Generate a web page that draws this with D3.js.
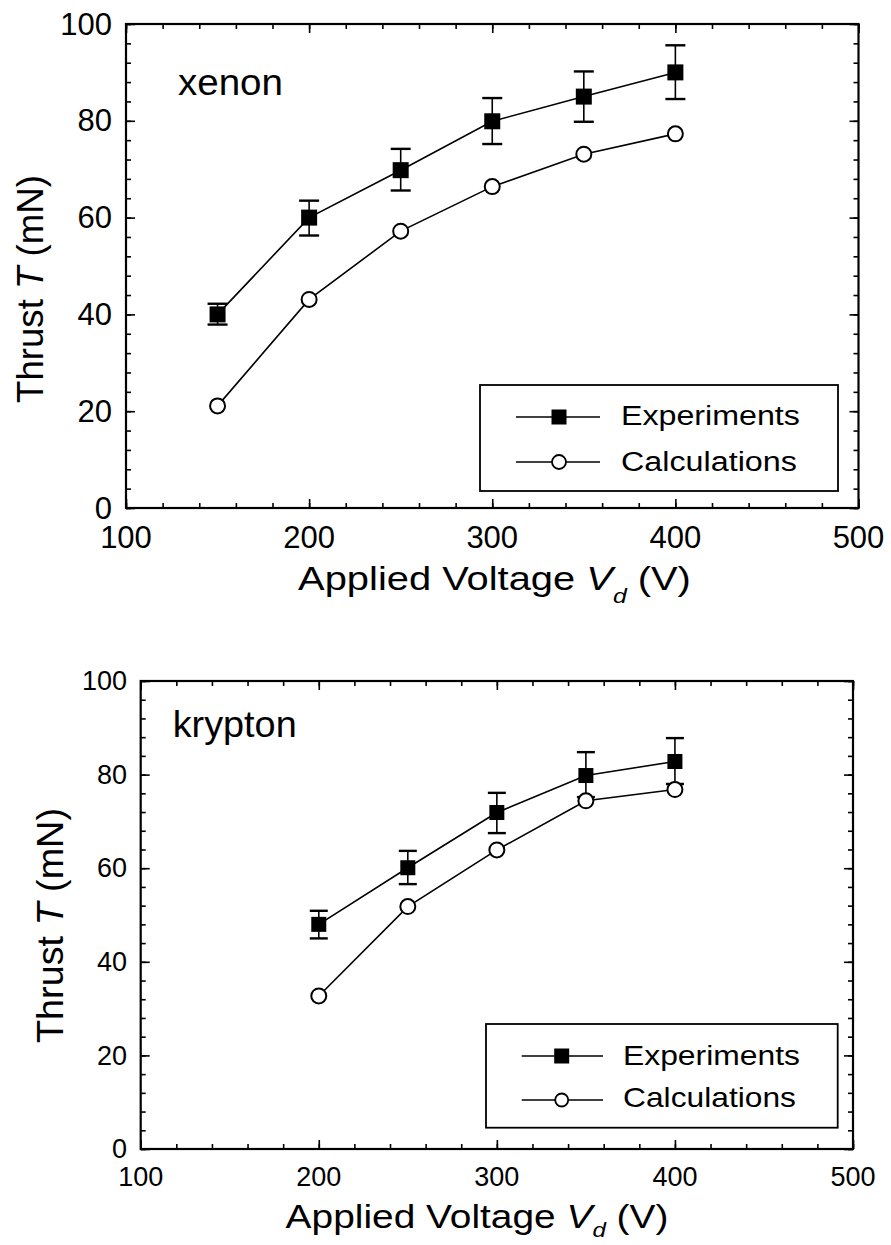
<!DOCTYPE html>
<html>
<head>
<meta charset="utf-8">
<script src="https://cdn.jsdelivr.net/npm/d3@7"></script>
<style>
  html, body { margin: 0; padding: 0; background: #fff; }
  svg { display: block; }
  text { font-family: "Liberation Sans", Arial, Helvetica, sans-serif; fill: #000; }
</style>
</head>
<body>
<svg id="chart" width="891" height="1245"></svg>
<script>
// ---------- data ----------
const xTickLabels = [100, 200, 300, 400, 500];
const yTickLabels = [0, 20, 40, 60, 80, 100];
const seriesNames = ["Experiments", "Calculations"];

const xenonVoltage = [150, 200, 250, 300, 350, 400];
const xenonExp     = [40.0, 60.0, 69.8, 79.9, 85.0, 90.0];
const xenonExpLow  = [37.9, 56.3, 65.6, 75.2, 79.8, 84.5];
const xenonExpHigh = [42.2, 63.5, 74.2, 84.7, 90.2, 95.6];
const xenonCalc    = [21.1, 43.1, 57.2, 66.4, 73.1, 77.3];

const kryptonVoltage = [200, 250, 300, 350, 400];
const kryptonExp     = [48.0, 60.1, 71.9, 79.8, 82.8];
const kryptonExpLow  = [45.0, 56.6, 67.5, 75.2, 78.0];
const kryptonExpHigh = [50.9, 63.7, 76.1, 84.8, 87.8];
const kryptonCalc    = [32.7, 51.8, 63.9, 74.4, 76.8];

// ---------- drawing ----------
const svg = d3.select("#chart");

function fitText(sel, x, y, width, anchor, rotate) {
  const w = sel.node().getComputedTextLength();
  const s = width / w;
  sel.attr("x", 0).attr("y", 0).attr("text-anchor", anchor || "start")
     .attr("transform", `translate(${x},${y})` + (rotate ? ` rotate(${rotate})` : "") + ` scale(${s},1)`);
}

function panel(cfg) {
  const g = svg.append("g");
  const x = d3.scaleLinear().domain([100, 500]).range([cfg.left, cfg.right]);
  const y = d3.scaleLinear().domain([0, 100]).range([cfg.bottom, cfg.top]);

  // minor / major ticks on all four sides, inward
  const xMinor = d3.range(100, 501, 20);
  const yMinor = d3.range(0, 101, 4);
  const mk = (axisFn, scale, vals, size, tr) => {
    const a = g.append("g").attr("transform", tr)
      .call(axisFn(scale).tickValues(vals).tickSize(size).tickFormat(""));
    a.select(".domain").remove();
    a.selectAll("line").attr("stroke", "#000").attr("stroke-width", 1.6);
  };
  mk(d3.axisBottom, x, xMinor, -cfg.minor, `translate(0,${cfg.bottom})`);
  mk(d3.axisBottom, x, xTickLabels, -cfg.major, `translate(0,${cfg.bottom})`);
  mk(d3.axisTop, x, xMinor, -cfg.minor, `translate(0,${cfg.top})`);
  mk(d3.axisTop, x, xTickLabels, -cfg.major, `translate(0,${cfg.top})`);
  mk(d3.axisLeft, y, yMinor, -cfg.minor, `translate(${cfg.left},0)`);
  mk(d3.axisLeft, y, yTickLabels, -cfg.major, `translate(${cfg.left},0)`);
  mk(d3.axisRight, y, yMinor, -cfg.minor, `translate(${cfg.right},0)`);
  mk(d3.axisRight, y, yTickLabels, -cfg.major, `translate(${cfg.right},0)`);

  g.append("rect")
    .attr("x", cfg.left).attr("y", cfg.top)
    .attr("width", cfg.right - cfg.left).attr("height", cfg.bottom - cfg.top)
    .attr("fill", "none").attr("stroke", "#000").attr("stroke-width", 2.2);

  // tick labels
  g.selectAll(".xl").data(xTickLabels).join("text")
    .attr("x", d => x(d)).attr("y", cfg.xLabelBase)
    .attr("text-anchor", "middle").attr("font-size", cfg.tickFont)
    .text(d => d);
  g.selectAll(".yl").data(yTickLabels).join("text")
    .attr("x", cfg.yLabelRight).attr("y", d => y(d) + cfg.tickFont * 0.34)
    .attr("text-anchor", "end").attr("font-size", cfg.tickFont)
    .text(d => d);

  // axis titles
  const xt = g.append("text").attr("font-size", cfg.titleFont);
  xt.append("tspan").text("Applied Voltage ");
  xt.append("tspan").attr("font-style", "italic").text("V");
  xt.append("tspan").attr("font-style", "italic").attr("font-size", cfg.titleFont * 0.62).attr("dy", cfg.subDy).text("d");
  xt.append("tspan").attr("dy", -cfg.subDy).text(" (V)");
  fitText(xt, cfg.xTitle.cx, cfg.xTitle.base, cfg.xTitle.w, "middle");

  const yt = g.append("text").attr("font-size", cfg.yTitleFont);
  yt.append("tspan").text("Thrust ");
  yt.append("tspan").attr("font-style", "italic").text("T");
  yt.append("tspan").text(" (mN)");
  fitText(yt, cfg.yTitle.base, cfg.yTitle.cy, cfg.yTitle.len, "middle", -90);

  // gas label
  const gl = g.append("text").attr("font-size", cfg.gasFont).text(cfg.gas);
  fitText(gl, cfg.gasPos.x, cfg.gasPos.base, cfg.gasPos.w, "start");

  // legend
  const L = cfg.legend;
  g.append("rect").attr("x", L.x0).attr("y", L.y0)
    .attr("width", L.x1 - L.x0).attr("height", L.y1 - L.y0)
    .attr("fill", "#fff").attr("stroke", "#000").attr("stroke-width", 1.8);
  [0, 1].forEach(i => {
    const ly = L.lineY[i];
    g.append("line").attr("x1", L.lx0).attr("x2", L.lx1).attr("y1", ly).attr("y2", ly)
      .attr("stroke", "#000").attr("stroke-width", 1.5);
    if (i === 0) {
      g.append("rect").attr("x", L.mx - L.sq / 2).attr("y", ly - L.sq / 2)
        .attr("width", L.sq).attr("height", L.sq).attr("fill", "#000");
    } else {
      g.append("circle").attr("cx", L.mx).attr("cy", ly).attr("r", L.r)
        .attr("fill", "#fff").attr("stroke", "#000").attr("stroke-width", 1.8);
    }
    const t = g.append("text").attr("font-size", L.font).text(seriesNames[i]);
    fitText(t, L.tx, L.textBase[i], L.textW[i], "start");
  });

  // data
  const V = cfg.volt;
  const line = d3.line().x(d => x(d[0])).y(d => y(d[1]));
  g.append("path").attr("d", line(V.map((v, i) => [v, cfg.calc[i]])))
    .attr("fill", "none").attr("stroke", "#000").attr("stroke-width", 1.6);
  g.append("path").attr("d", line(V.map((v, i) => [v, cfg.exp[i]])))
    .attr("fill", "none").attr("stroke", "#000").attr("stroke-width", 1.6);

  // error bars
  V.forEach((v, i) => {
    const cx = x(v);
    g.append("line").attr("x1", cx).attr("x2", cx)
      .attr("y1", y(cfg.lo[i])).attr("y2", y(cfg.hi[i]))
      .attr("stroke", "#000").attr("stroke-width", 1.6);
    [cfg.lo[i], cfg.hi[i]].forEach(e => {
      g.append("line").attr("x1", cx - cfg.cap / 2).attr("x2", cx + cfg.cap / 2)
        .attr("y1", y(e)).attr("y2", y(e))
        .attr("stroke", "#000").attr("stroke-width", 2.4);
    });
  });

  g.selectAll(".calc").data(V).join("circle")
    .attr("cx", d => x(d)).attr("cy", (d, i) => y(cfg.calc[i])).attr("r", cfg.r)
    .attr("fill", "#fff").attr("stroke", "#000").attr("stroke-width", 2);
  g.selectAll(".exp").data(V).join("rect")
    .attr("x", d => x(d) - cfg.sq / 2).attr("y", (d, i) => y(cfg.exp[i]) - cfg.sq / 2)
    .attr("width", cfg.sq).attr("height", cfg.sq).attr("fill", "#000");
}

panel({
  left: 126, right: 858.5, top: 24, bottom: 508,
  major: 9, minor: 5,
  tickFont: 31, xLabelBase: 548, yLabelRight: 112,
  titleFont: 34, subDy: 13, xTitle: { cx: 494.5, base: 590, w: 393 },
  yTitleFont: 37, yTitle: { base: 43, cy: 289, len: 228 },
  gas: "xenon", gasFont: 37, gasPos: { x: 178, base: 95, w: 105 },
  legend: {
    x0: 480, x1: 838, y0: 385, y1: 491,
    lx0: 516, lx1: 600, mx: 559, lineY: [417, 462],
    sq: 15, r: 7, font: 28, tx: 621,
    textBase: [425, 471], textW: [179, 176]
  },
  volt: xenonVoltage, exp: xenonExp, lo: xenonExpLow, hi: xenonExpHigh, calc: xenonCalc,
  cap: 20, sq: 16, r: 7.5
});

panel({
  left: 140.7, right: 853, top: 681, bottom: 1149,
  major: 9, minor: 5,
  tickFont: 27, xLabelBase: 1186, yLabelRight: 127,
  titleFont: 34, subDy: 9, xTitle: { cx: 477, base: 1228, w: 383 },
  yTitleFont: 37, yTitle: { base: 63, cy: 925.5, len: 235 },
  gas: "krypton", gasFont: 36, gasPos: { x: 172.7, base: 737, w: 124 },
  legend: {
    x0: 486, x1: 837.7, y0: 1024, y1: 1127.7,
    lx0: 521.7, lx1: 603, mx: 561.7, lineY: [1056, 1100],
    sq: 15, r: 6.5, font: 27, tx: 623,
    textBase: [1065, 1107], textW: [177, 173]
  },
  volt: kryptonVoltage, exp: kryptonExp, lo: kryptonExpLow, hi: kryptonExpHigh, calc: kryptonCalc,
  cap: 18, sq: 15, r: 7.5
});
</script>
</body>
</html>
